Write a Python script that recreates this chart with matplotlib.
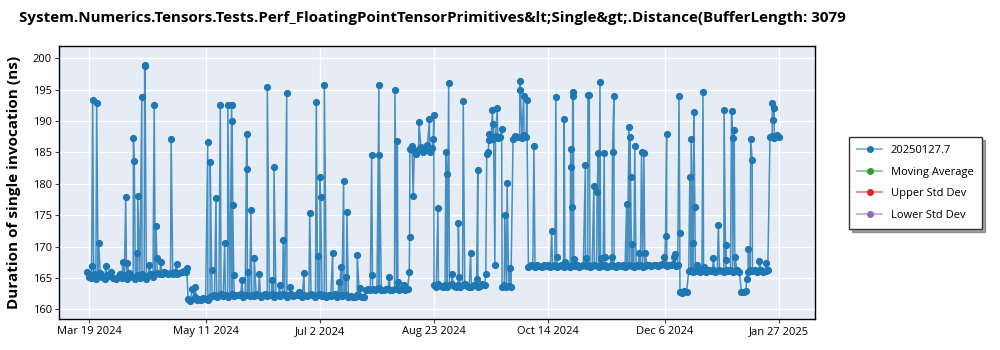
import matplotlib
matplotlib.use("Agg")
import matplotlib.pyplot as plt
import matplotlib.dates as mdates
from matplotlib.lines import Line2D
import pandas as pd

plt.rcParams["font.family"] = ["Open Sans", "DejaVu Sans"]

title = "System.Numerics.Tensors.Tests.Perf_FloatingPointTensorPrimitives&lt;Single&gt;.Distance(BufferLength: 3079"
y_label = "Duration of single invocation (ns)"
legend_names = ["20250127.7", "Moving Average", "Upper Std Dev", "Lower Std Dev"]
legend_colors = ["#1f77b4", "#2ca02c", "#d62728", "#9467bd"]

tick_dates = ["2024-03-19", "2024-05-11", "2024-07-02", "2024-08-23",
              "2024-10-14", "2024-12-06", "2025-01-27"]
y_ticks = [160, 165, 170, 175, 180, 185, 190, 195, 200]

# daily baseline readings, one per day from the start date of each block
start_a = "2024-03-18"
base_a = [165.9, 165.2, 165.0, 165.6, 164.9, 165.4, 165.8, 165.1, 164.8, 165.5,
          165.3, 165.9, 165.0, 164.9,
          165.2, 165.6, 165.0, 165.4, 164.9, 165.8, 165.3, 165.1, 164.8, 165.5,
          165.0, 165.7, 165.2, 164.9, 165.4, 165.6, 165.1, 165.7, 165.8, 165.6,
          165.7, 165.9, 165.8, 165.7, 165.8, 165.6, 165.9, 165.7, 165.8, 166.0,
          166.1, 165.9]

start_b = "2024-05-03"
base_b = [161.6, 161.3, 163.2, 161.9, 161.4, 161.7, 161.5, 161.8, 161.6, 161.4,
          161.9, 162.1, 162.3, 162.0, 162.2, 162.4, 162.1, 162.3, 162.0, 162.2,
          162.5, 162.1, 162.3, 162.2, 162.4, 162.0, 162.3, 162.2, 162.1,
          162.3, 162.1, 162.4, 162.2, 162.0, 162.3, 162.5, 162.1, 162.2, 162.4,
          162.0, 162.3, 162.2, 162.1, 162.4, 162.3, 162.0, 162.2, 162.5, 162.1,
          162.3, 162.2, 162.4, 162.0, 162.3, 162.1, 162.2, 162.4, 162.3, 162.0,
          162.2, 162.4, 162.1, 162.3, 162.0, 162.2, 162.1, 162.3, 162.4, 162.0,
          162.2, 162.1, 162.3, 162.2, 162.0, 162.1, 161.9, 162.0, 162.2, 162.1,
          161.9, 162.0]

start_b2 = "2024-07-23"
base_b2 = [163.0, 163.2, 163.1, 163.3, 163.0, 163.2, 163.4, 163.1, 163.0,
           163.2, 163.3, 163.1, 163.0, 163.2, 163.4, 163.1, 163.3, 163.2, 163.0,
           163.3]

start_c = "2024-08-12"
base_c = [185.6, 186.0, 185.2, 184.8, 185.5, 185.9, 185.1, 185.4, 186.2, 185.0,
          185.7]

start_d = "2024-08-23"
base_d = [163.8, 163.6, 164.0, 163.7, 163.5, 163.9, 163.6, 163.8, 164.1,
          163.7, 163.5, 163.9, 163.6, 163.8, 164.0, 163.7, 163.5, 163.6, 163.9,
          163.8, 163.6, 163.7, 164.0, 163.8]

start_e = "2024-09-16"
base_e = [184.8, 186.9, 187.4, 187.1, 187.6, 187.3, 187.5,
          163.6, 163.8, 163.5, 163.7, 163.6,
          187.2, 187.6, 187.4, 187.5, 187.3, 187.7, 187.4]

start_f = "2024-10-05"
base_f = [166.8, 167.0, 166.9, 166.7, 167.1, 166.9, 166.8, 167.0, 166.9, 167.1,
          166.8, 166.9, 167.0, 166.7, 166.9, 167.1, 166.8, 167.0, 166.9, 166.8,
          167.1, 166.9, 167.0, 166.8, 166.9, 167.1, 166.9,
          167.0, 166.8, 166.9, 167.1, 166.9, 166.8, 167.0, 166.9, 167.1, 166.8,
          166.9, 167.0, 166.9, 166.7, 167.0, 166.9, 167.1, 166.8, 166.9, 167.0,
          166.9, 166.8, 167.1, 166.9, 167.0, 166.8, 166.9, 167.1, 167.0, 166.9,
          167.0, 167.1, 166.9, 167.0, 167.2, 167.0, 166.9, 167.1, 167.0, 167.2,
          166.9, 167.0]

start_g = "2024-12-13"
base_g = [162.8, 162.6, 162.9, 162.7,
          166.1, 166.2, 166.0, 166.1, 166.3, 166.0, 166.2, 166.1, 166.0, 166.2,
          166.1, 166.3, 166.0, 166.1, 166.2,
          166.1, 166.0, 166.2, 166.1, 166.3, 166.0, 166.1, 166.2, 166.0,
          162.8, 162.7, 162.9,
          166.0, 166.2, 166.1, 166.3, 166.0, 166.1, 166.2, 166.0, 166.1, 166.2,
          187.4, 187.6, 187.3, 187.7, 187.5]

# extra runs between the daily readings (the spikes)
spike_times = [
    "2024-03-20 02:00", "2024-03-20 13:00", "2024-03-22 09:00", "2024-03-23 07:00",
    "2024-03-26 14:00", "2024-04-03 05:00", "2024-04-04 14:00", "2024-04-05 08:00",
    "2024-04-08 02:00", "2024-04-08 12:00", "2024-04-09 14:00", "2024-04-10 02:00",
    "2024-04-11 22:00", "2024-04-13 05:00", "2024-04-13 09:00", "2024-04-15 05:00",
    "2024-04-17 14:00", "2024-04-18 09:00", "2024-04-18 20:00", "2024-04-20 15:00",
    "2024-04-25 07:00", "2024-04-27 19:00", "2024-05-02 09:00",
    "2024-05-06 03:00", "2024-05-11 22:00", "2024-05-13 02:00", "2024-05-13 17:00",
    "2024-05-15 17:00", "2024-05-17 16:00", "2024-05-19 16:00", "2024-05-21 02:00",
    "2024-05-22 20:00", "2024-05-23 02:00", "2024-05-23 08:00", "2024-05-23 19:00",
    "2024-05-27 12:00", "2024-05-29 16:00", "2024-05-29 22:00", "2024-05-30 06:00",
    "2024-05-31 15:00", "2024-06-02 03:00", "2024-06-04 10:00", "2024-06-08 02:00",
    "2024-06-10 02:00", "2024-06-11 03:00", "2024-06-13 19:00", "2024-06-15 08:00",
    "2024-06-16 22:00", "2024-06-18 10:00", "2024-06-22 15:00", "2024-06-24 19:00",
    "2024-06-27 09:00", "2024-06-30 09:00", "2024-07-01 03:00", "2024-07-02 02:00",
    "2024-07-02 08:00", "2024-07-04 01:00", "2024-07-07 20:00", "2024-07-10 20:00",
    "2024-07-11 14:00", "2024-07-12 20:00", "2024-07-13 21:00", "2024-07-14 08:00",
    "2024-07-19 01:00", "2024-07-20 02:00", "2024-07-25 14:00", "2024-07-25 22:00",
    "2024-07-28 22:00", "2024-07-29 04:00", "2024-08-02 15:00", "2024-08-05 05:00",
    "2024-08-06 07:00", "2024-08-06 13:00", "2024-08-09 07:00", "2024-08-11 17:00",
    "2024-08-11 21:00",
    "2024-08-13 12:00", "2024-08-16 03:00", "2024-08-20 22:00", "2024-08-22 15:00",
    "2024-08-22 22:00",
    "2024-08-24 19:00", "2024-08-28 10:00", "2024-08-28 21:00", "2024-08-29 16:00",
    "2024-08-31 01:00", "2024-09-03 02:00", "2024-09-03 12:00", "2024-09-05 07:00",
    "2024-09-08 16:00", "2024-09-11 10:00", "2024-09-11 22:00", "2024-09-15 14:00",
    "2024-09-16 17:00", "2024-09-17 03:00", "2024-09-18 14:00", "2024-09-19 02:00",
    "2024-09-19 17:00", "2024-09-20 19:00", "2024-09-22 19:00", "2024-09-24 05:00",
    "2024-09-25 07:00", "2024-09-26 19:00", "2024-10-01 02:00", "2024-10-01 08:00",
    "2024-10-02 19:00", "2024-10-04 05:00",
    "2024-10-07 12:00", "2024-10-15 14:00", "2024-10-17 12:00", "2024-10-17 20:00",
    "2024-10-21 07:00", "2024-10-21 15:00", "2024-10-24 05:00", "2024-10-24 10:00",
    "2024-10-24 22:00", "2024-10-25 03:00", "2024-10-25 10:00", "2024-10-25 17:00",
    "2024-10-30 22:00", "2024-10-31 05:00", "2024-11-01 02:00", "2024-11-01 17:00",
    "2024-11-03 19:00", "2024-11-05 07:00", "2024-11-05 19:00", "2024-11-06 14:00",
    "2024-11-06 20:00", "2024-11-08 12:00", "2024-11-08 18:00", "2024-11-11 22:00",
    "2024-11-12 07:00", "2024-11-12 22:00", "2024-11-18 17:00", "2024-11-19 19:00",
    "2024-11-20 05:00", "2024-11-20 12:00", "2024-11-21 07:00", "2024-11-22 10:00",
    "2024-11-24 07:00", "2024-11-25 12:00", "2024-11-26 14:00", "2024-11-27 02:00",
    "2024-12-05 22:00", "2024-12-06 10:00", "2024-12-06 22:00", "2024-12-10 02:00",
    "2024-12-10 19:00", "2024-12-12 14:00", "2024-12-12 22:00",
    "2024-12-17 12:00", "2024-12-18 02:00", "2024-12-18 23:00", "2024-12-19 07:00",
    "2024-12-19 19:00", "2024-12-20 22:00", "2024-12-23 12:00", "2024-12-23 18:00",
    "2024-12-28 02:00", "2024-12-30 12:00", "2025-01-02 02:00", "2025-01-02 19:00",
    "2025-01-02 22:00", "2025-01-05 12:00", "2025-01-05 23:00", "2025-01-06 17:00",
    "2025-01-07 02:00", "2025-01-12 10:00", "2025-01-13 02:00", "2025-01-14 05:00",
    "2025-01-14 22:00", "2025-01-18 02:00", "2025-01-21 02:00", "2025-01-24 02:00",
    "2025-01-24 09:00", "2025-01-24 19:00",
]
spike_values = [
    166.9, 193.3, 192.9, 170.5,
    166.9, 167.6, 177.9, 167.3,
    187.3, 183.7, 168.9, 178.0,
    193.9, 198.8, 198.9, 167.0,
    192.6, 173.3, 168.2, 167.5,
    187.1, 167.2, 166.5,
    163.6, 186.7, 183.5, 166.3,
    177.8, 192.6, 170.6, 192.6,
    192.6, 190.0, 176.6, 165.5,
    164.6, 187.9, 182.4, 165.9,
    175.8, 168.1, 165.7, 195.4,
    164.6, 182.7, 163.8, 171.1,
    194.5, 163.5, 162.7, 165.8,
    175.4, 193.1, 168.5, 181.1,
    177.9, 195.7, 169.0, 164.4,
    166.7, 180.4, 165.2, 175.5,
    168.6, 163.4, 184.6, 165.5,
    195.7, 184.6, 165.2, 194.9,
    186.8, 164.4, 163.9, 165.9,
    171.5,
    178.0, 189.8, 190.3, 187.2,
    191.0,
    176.1, 185.0, 181.6, 196.0,
    165.6, 173.7, 165.2, 193.2,
    169.0, 164.9, 182.2, 165.6,
    185.0, 188.0, 191.8, 189.5,
    167.1, 192.0, 188.8, 175.0,
    180.2, 166.6, 196.4, 194.9,
    194.0, 193.3,
    186.0, 172.5, 193.9, 168.4,
    190.3, 167.6, 185.5, 182.6,
    176.3, 194.6, 194.0, 168.0,
    183.0, 168.1, 194.2, 194.2,
    179.7, 178.7, 184.9, 196.3,
    168.1, 184.9, 168.4, 168.3,
    185.1, 194.0, 176.7, 189.0,
    187.5, 181.1, 170.4, 186.1,
    169.0, 185.1, 184.9, 169.0,
    168.4, 171.6, 187.9, 168.4,
    168.8, 194.0, 172.1,
    181.1, 187.1, 170.5, 191.4,
    176.3, 167.0, 194.7, 166.8,
    168.2, 173.4, 191.8, 167.9,
    170.2, 191.6, 187.3, 188.6,
    168.4, 164.8, 169.6, 187.1,
    183.8, 167.7, 167.4, 192.9,
    190.1, 192.1,
]

blocks = [(start_a, base_a), (start_b, base_b), (start_b2, base_b2), (start_c, base_c),
          (start_d, base_d), (start_e, base_e), (start_f, base_f), (start_g, base_g)]
frames = [pd.DataFrame({"time": pd.date_range(s, periods=len(v), freq="D"), "value": v})
          for s, v in blocks]
frames.append(pd.DataFrame({"time": pd.to_datetime(spike_times), "value": spike_values}))
df = pd.concat(frames).sort_values("time")

fig = plt.figure(figsize=(10, 3.5), dpi=100)
ax = fig.add_axes([0.059, 0.0886, 0.756, 0.78])
ax.set_facecolor("#E5ECF6")

ax.plot(df["time"], df["value"], color="#1f77b4", lw=1.1, alpha=0.8, zorder=2)
ax.plot(df["time"], df["value"], ls="none", marker="o", ms=4.2, color="#1f77b4", zorder=3)

ax.set_xlim(pd.Timestamp("2024-03-05 05:00"), pd.Timestamp("2025-02-12 12:00"))
ax.set_ylim(158.45, 201.96)
ax.set_yticks(y_ticks)
ax.set_xticks(pd.to_datetime(tick_dates))
ax.xaxis.set_major_formatter(mdates.DateFormatter("%b %-d %Y"))
ax.grid(color="white", lw=1)
ax.set_axisbelow(True)
ax.tick_params(labelsize=8, length=3, color="#444444", pad=2)
for sp in ax.spines.values():
    sp.set_color("black")
    sp.set_linewidth(1)

fig.text(0.019, 0.948, title, fontsize=10.9, weight="bold", va="center", ha="left")
fig.text(0.014, 0.479, y_label, fontsize=11, weight="bold", rotation=90,
         va="center", ha="center")

handles = []
for c in legend_colors:
    ln = Line2D([0], [0], color=c, lw=1.2, alpha=0.6)
    mk = Line2D([0], [0], color=c, ls="none", marker="o", ms=4)
    handles.append((ln, mk))
fig.legend(handles, legend_names, loc="upper left", bbox_to_anchor=(0.849, 0.609),
           borderaxespad=0, fontsize=8, frameon=True, fancybox=False, shadow=True,
           edgecolor="#333333", handlelength=2.2, labelspacing=0.95, borderpad=0.75,
           framealpha=1)

fig.savefig("out.png", dpi=100)
